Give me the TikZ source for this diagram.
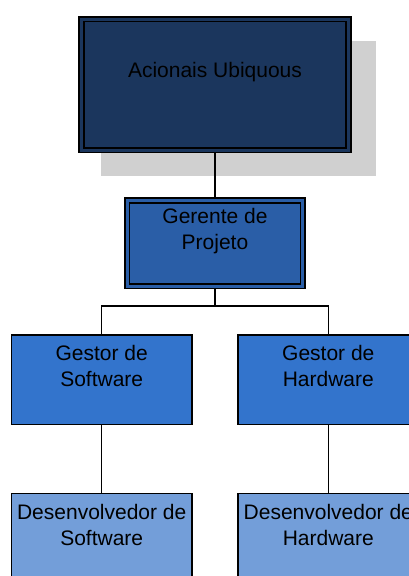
\documentclass[tikz,border=0pt]{standalone}
\usepackage{fontspec}
\setmainfont{Liberation Sans}
\usepackage{xcolor}
\usepackage{tikz}
\definecolor{orgnavy}{RGB}{27,54,93}
\definecolor{orgblue}{RGB}{42,94,167}
\definecolor{orgmid}{RGB}{51,116,204}
\definecolor{orglight}{RGB}{115,158,217}
\definecolor{orgshadow}{RGB}{208,208,208}
\usetikzlibrary{shadows}

\begin{document}
\begin{tikzpicture}[x=1pt, y=-1pt,
    dblbox/.style={rectangle, draw=black, line width=1.6pt, double distance=3.2pt, outer sep=3.2pt, inner sep=0pt},
    orgbox/.style={rectangle, draw=black, line width=1.5pt, inner sep=0pt, minimum width=180.5pt, minimum height=89.8pt},
    lbl/.style={inner sep=0pt, align=center, anchor=north, font=\fontsize{21}{26}\selectfont},
    link/.style={draw=black, line width=1.5pt}]
    \clip (0,0) rectangle (409,576);

    % Top level
    \node[dblbox, fill=orgnavy, double=orgnavy, minimum width=267pt, minimum height=131pt,
          drop shadow={fill=orgshadow, opacity=1, shadow xshift=23pt, shadow yshift=-23pt, shadow scale=1.03}] (acionais) at (215,84.7) {};
    \node[dblbox, fill=orgblue, double=orgblue, minimum width=175.6pt, minimum height=85.6pt] (gerente) at (215,243.3) {};

    % Managers
    \node[orgbox, fill=orgmid] (gsoft) at (101.7,379.7) {};
    \node[orgbox, fill=orgmid] (ghard) at (328.3,379.7) {};

    % Developers
    \node[orgbox, fill=orglight] (dsoft) at (101.7,538.4) {};
    \node[orgbox, fill=orglight] (dhard) at (328.3,538.4) {};

    % Labels
    \node[lbl] (acionaistxt) at ([yshift=-45.7pt]acionais.north) {Acionais Ubiquous};
    \node[lbl] (gerentetxt) at ([yshift=-11pt]gerente.north) {Gerente de\\Projeto};
    \node[lbl] (gsofttxt) at ([yshift=-11pt]gsoft.north) {Gestor de\\Software};
    \node[lbl] (ghardtxt) at ([yshift=-11pt]ghard.north) {Gestor de\\Hardware};
    \node[lbl] (dsofttxt) at ([yshift=-11pt]dsoft.north) {Desenvolvedor de\\Software};
    \node[lbl] (dhardtxt) at ([yshift=-11pt]dhard.north) {Desenvolvedor de\\Hardware};

    % Lines
    \coordinate (bus) at (215,306);
    \draw[link] (acionais.south) -- (gerente.north);
    \draw[link] (gerente.south) -- (bus) -| (gsoft.north);
    \draw[link] (bus) -| (ghard.north);
    \draw[link] (gsoft.south) -- (dsoft.north);
    \draw[link] (ghard.south) -- (dhard.north);
\end{tikzpicture}
\end{document}
